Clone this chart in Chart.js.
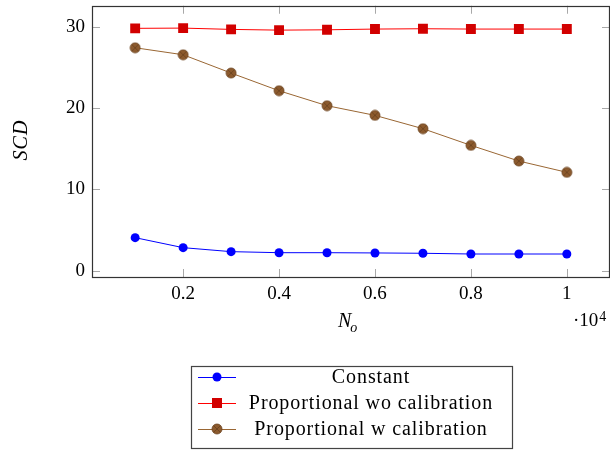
<!DOCTYPE html>
<html>
<head>
<meta charset="utf-8">
<script src="https://cdn.jsdelivr.net/npm/chart.js@4.4.1/dist/chart.umd.min.js"></script>
<style>
  html, body { margin: 0; background: #fff; overflow: hidden; width: 610px; height: 452px; }
  #chart { display: block; position: absolute; left: 0; top: -6px; }
</style>
</head>
<body>
<canvas id="chart" width="617" height="458"></canvas>
<script>
// Data (N_o in units of 10^4)
const noValues = [0.1, 0.2, 0.3, 0.4, 0.5, 0.6, 0.7, 0.8, 0.9, 1.0];
const constantScd = [4.06, 2.83, 2.34, 2.21, 2.21, 2.18, 2.14, 2.05, 2.05, 2.05];
const propNoCalib = [29.82, 29.85, 29.69, 29.6, 29.64, 29.73, 29.77, 29.73, 29.73, 29.73];
const propCalib = [27.43, 26.57, 24.32, 22.14, 20.3, 19.11, 17.47, 15.42, 13.49, 12.1];
const xTicks = [0.2, 0.4, 0.6, 0.8, 1];
const yTicks = [0, 10, 20, 30];
const seriesNames = ['Constant', 'Proportional wo calibration', 'Proportional w calibration'];

const SERIF = '"Liberation Serif", serif';
const OY = 6; // canvas is shifted up by this much
const BLUE = 'rgb(0,0,255)';
const RED = 'rgb(255,0,0)';
const RED_MARK = 'rgb(210,0,0)';
const BROWN = 'rgb(153,102,51)';

// otimes* marker for the brown series
function makeOtimes(r) {
  const c = document.createElement('canvas');
  const s = Math.ceil(r * 2 + 2);
  c.width = s; c.height = s;
  const g = c.getContext('2d');
  const m = s / 2;
  g.beginPath();
  g.arc(m, m, r, 0, Math.PI * 2);
  g.fillStyle = 'rgb(140,90,45)';
  g.fill();
  g.strokeStyle = 'rgb(105,65,30)';
  g.lineWidth = 0.8;
  g.stroke();
  const d = r * 0.7;
  g.beginPath();
  g.moveTo(m - d, m - d); g.lineTo(m + d, m + d);
  g.moveTo(m + d, m - d); g.lineTo(m - d, m + d);
  g.stroke();
  return c;
}
const otimes = makeOtimes(5);

function toPoints(ys) {
  return noValues.map((x, i) => ({ x: x, y: ys[i] }));
}

// inner ticks, full frame, titles and legend
const decorPlugin = {
  id: 'decor',
  afterDraw(chart) {
    const ctx = chart.ctx;
    const a = chart.chartArea;
    const xs = chart.scales.x;
    const ys = chart.scales.y;
    ctx.save();

    ctx.strokeStyle = '#a8a8a8';
    ctx.lineWidth = 1;
    ctx.beginPath();
    yTicks.forEach(v => {
      const py = Math.round(ys.getPixelForValue(v)) + 0.5;
      ctx.moveTo(a.left, py); ctx.lineTo(a.left + 8, py);
      ctx.moveTo(a.right, py); ctx.lineTo(a.right - 8, py);
    });
    xTicks.forEach(v => {
      const px = Math.round(xs.getPixelForValue(v)) + 0.5;
      ctx.moveTo(px, a.bottom); ctx.lineTo(px, a.bottom - 8);
      ctx.moveTo(px, a.top); ctx.lineTo(px, a.top + 8);
    });
    ctx.stroke();

    ctx.strokeStyle = '#333';
    ctx.lineWidth = 1.2;
    ctx.strokeRect(Math.round(a.left) + 0.5, Math.round(a.top) + 0.5,
      Math.round(a.right - a.left) - 1, Math.round(a.bottom - a.top));

    // axis titles
    ctx.fillStyle = '#000';
    ctx.textBaseline = 'alphabetic';
    ctx.textAlign = 'left';
    ctx.font = 'italic 20px ' + SERIF;
    ctx.fillText('N', 338, 327 + OY);
    const nw = ctx.measureText('N').width;
    ctx.font = 'italic 14px ' + SERIF;
    ctx.fillText('o', 337 + nw, 332 + OY);

    ctx.font = '19px ' + SERIF;
    ctx.fillText('\u00b710', 573, 326 + OY);
    const tw = ctx.measureText('\u00b710').width;
    ctx.font = '14px ' + SERIF;
    ctx.fillText('4', 574 + tw, 321 + OY);

    ctx.save();
    ctx.translate(27, 140 + OY);
    ctx.rotate(-Math.PI / 2);
    ctx.font = 'italic 20px ' + SERIF;
    ctx.letterSpacing = '1px';
    ctx.textAlign = 'center';
    ctx.fillText('SCD', 0, 0);
    ctx.restore();

    // legend box
    const lx = 191, ly = 366 + OY, lw = 321, lh = 82;
    ctx.fillStyle = '#fff';
    ctx.fillRect(lx, ly, lw, lh);
    ctx.strokeStyle = '#444';
    ctx.lineWidth = 1.2;
    ctx.strokeRect(lx + 0.5, ly + 0.5, lw, lh);
    const rows = [377, 403, 429];
    const lineCols = [BLUE, RED, BROWN];
    ctx.font = '20px ' + SERIF;
    ctx.letterSpacing = '0.9px';
    ctx.textAlign = 'center';
    ctx.textBaseline = 'middle';
    rows.forEach((r, i) => {
      const ry = r + OY;
      ctx.strokeStyle = lineCols[i];
      ctx.lineWidth = 1;
      ctx.beginPath();
      ctx.moveTo(198, ry + 0.5); ctx.lineTo(236, ry + 0.5);
      ctx.stroke();
      if (i === 0) {
        ctx.fillStyle = BLUE;
        ctx.beginPath(); ctx.arc(217, ry, 4.5, 0, Math.PI * 2); ctx.fill();
      } else if (i === 1) {
        ctx.fillStyle = RED_MARK;
        ctx.fillRect(212, ry - 5, 10, 10);
      } else {
        ctx.drawImage(otimes, 217 - otimes.width / 2, ry - otimes.height / 2);
      }
      ctx.fillStyle = '#000';
      ctx.fillText(seriesNames[i], 371, ry + 1);
    });
    ctx.restore();
  }
};

function drawChart() {
  new Chart(document.getElementById('chart'), {
    type: 'line',
    data: {
      datasets: [
        {
          label: seriesNames[0],
          data: toPoints(constantScd),
          borderColor: BLUE,
          backgroundColor: BLUE,
          borderWidth: 1,
          pointStyle: 'circle',
          pointRadius: 4.5,
          pointBorderWidth: 0,
        },
        {
          label: seriesNames[1],
          data: toPoints(propNoCalib),
          borderColor: RED,
          backgroundColor: RED_MARK,
          pointBorderColor: RED_MARK,
          borderWidth: 1,
          pointStyle: 'rect',
          pointRadius: 7,
          pointBorderWidth: 0,
        },
        {
          label: seriesNames[2],
          data: toPoints(propCalib),
          borderColor: BROWN,
          backgroundColor: BROWN,
          borderWidth: 1,
          pointStyle: otimes,
          pointRadius: 5,
        },
      ],
    },
    options: {
      responsive: false,
      animation: false,
      layout: { padding: { left: 0, right: 0, top: 0, bottom: 135 } },
      plugins: { legend: { display: false }, tooltip: { enabled: false } },
      scales: {
        x: {
          type: 'linear',
          min: 0.01,
          max: 1.09,
          grid: { display: false, drawTicks: false },
          border: { display: false },
          afterFit: (s) => { s.height = 40; },
          afterBuildTicks: (s) => { s.ticks = xTicks.map(v => ({ value: v })); },
          ticks: {
            padding: 6,
            color: '#000',
            font: { family: SERIF, size: 19 },
            callback: (v) => String(v),
          },
        },
        y: {
          min: -0.78,
          max: 32.6,
          grid: { display: false, drawTicks: false },
          border: { display: false },
          afterFit: (s) => { s.width = 92; },
          afterBuildTicks: (s) => { s.ticks = yTicks.map(v => ({ value: v })); },
          ticks: {
            padding: 7,
            color: '#000',
            font: { family: SERIF, size: 19, lineHeight: 0.5 },
          },
        },
      },
    },
    plugins: [decorPlugin],
  });
}

Promise.all([
  document.fonts.load('19px "Liberation Serif"'),
  document.fonts.load('italic 19px "Liberation Serif"'),
]).then(drawChart, drawChart);
</script>
</body>
</html>
